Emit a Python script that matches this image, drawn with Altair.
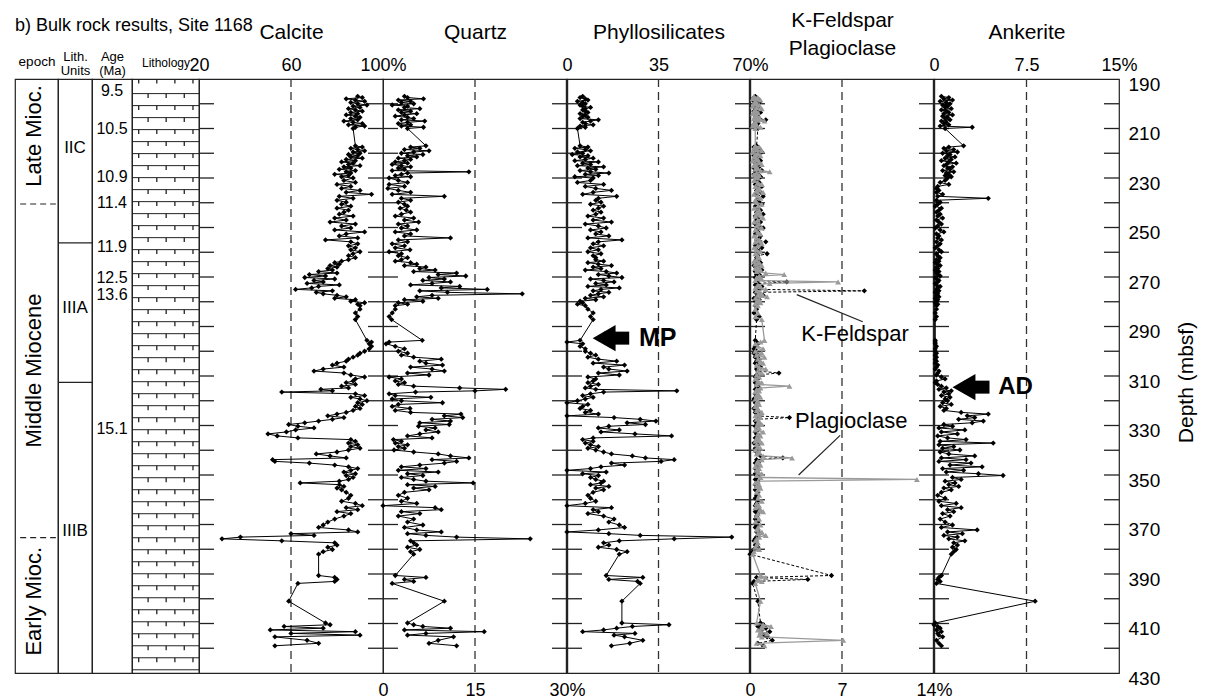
import altair as alt
import pandas as pd

FONT = "Liberation Sans"
H = 594          # plot-area height (px)
TICK_PX = 15     # inward depth tick length (px)

# ------------------------------------------------------------------ data
DEPTH = [
    # 197-210
    197.0, 197.5, 198.0, 198.5, 199.0, 199.5, 200.0, 200.5, 201.0, 201.5,
    202.0, 202.5, 203.0, 203.5, 204.0, 204.5, 205.0, 205.5, 206.0, 206.5,
    207.0, 207.5, 208.0, 208.5, 209.0, 209.5, 210.0,
    # 217-230
    217.0, 217.5, 218.0, 218.5, 219.0, 219.5, 220.0, 220.5, 221.0, 221.5,
    222.0, 222.5, 223.0, 223.5, 224.0, 224.5, 225.0, 225.5, 226.0, 226.5,
    227.0, 227.5, 228.0, 228.5, 229.0, 229.5, 230.0,
    # 231-262
    231.0, 231.8, 232.6, 233.4, 234.2, 235.0, 235.8, 236.6, 237.4, 238.2,
    239.0, 239.8, 240.6, 241.4, 242.2, 243.0, 243.8, 244.6, 245.4, 246.2,
    247.0, 247.8, 248.6, 249.4, 250.2, 251.0, 251.8, 252.6, 253.4, 254.2,
    255.0, 255.8, 256.6, 257.4, 258.2, 259.0, 259.8, 260.6, 261.4, 262.2,
    # 263-282
    263.0, 263.6, 264.2, 264.8, 265.4, 266.0, 266.6, 267.2, 267.8, 268.4,
    269.0, 269.6, 270.2, 270.8, 271.4, 272.0, 272.6, 273.2, 273.8, 274.4,
    275.0, 275.6, 276.2, 276.8, 277.4, 278.0, 278.6, 279.2, 279.8, 280.4,
    281.0, 281.6,
    # 283-299
    283.0, 284.5, 286.0, 287.2, 295.6, 296.3, 297.0, 298.0, 299.0,
    # 300-311
    300.0, 300.8, 301.6, 302.4, 303.2, 304.0, 304.8, 305.6, 306.4, 307.2,
    308.0, 308.8, 309.6, 310.4, 311.2,
    # 312-378
    312.0, 312.7, 313.4, 314.1, 314.8, 315.4, 316.0, 316.5, 317.2, 317.9,
    318.6, 319.3, 320.0, 320.8, 321.5, 322.3, 323.1, 323.9, 324.7, 325.4,
    326.1, 326.8, 327.5, 328.2, 328.9, 329.6, 330.3, 331.0, 331.8, 332.6,
    333.4, 334.2, 335.0, 335.7, 336.4, 337.1, 337.8, 338.5, 339.2, 339.9,
    340.7, 341.5, 342.3, 343.1, 343.8, 344.5, 345.2, 346.0, 346.7, 347.4,
    348.1, 348.8, 349.5, 350.2, 351.0, 351.8, 352.5, 353.2, 353.9, 354.6,
    355.3, 356.0, 357.0, 358.2, 359.4, 360.6, 361.5, 362.4, 363.2, 364.0,
    364.8, 365.6, 366.6, 367.8, 369.0, 370.2, 371.2, 372.2, 373.0, 373.7,
    374.4, 375.1, 375.8, 376.6, 377.4,
    # 378-419
    378.3, 379.2, 380.1, 381.0, 382.0, 390.6, 391.4, 392.2, 393.0, 393.8,
    401.0, 409.8, 410.5, 411.2, 411.9, 412.6, 413.3, 414.0, 414.7, 415.4,
    416.8, 418.0, 419.0,
]

CALCITE = [
    89, 91, 84, 88, 92, 86, 89, 93, 87, 90, 85, 88, 91, 86, 89, 84, 88, 90, 86, 89,
    83, 87, 91, 85, 92, 88, 87,
    88, 91, 86, 89, 92, 87, 90, 85, 89, 86, 91, 84, 88, 82, 87, 85, 90, 83, 86, 81,
    88, 84, 86, 79, 85, 82, 87,
    83, 88, 80, 86, 82, 90, 84, 95, 81, 87, 80, 84, 82, 86, 80, 85, 83, 81, 87, 79,
    84, 77, 88, 82, 86, 79, 92, 84, 81, 89, 75, 86, 89, 85, 88, 86, 90, 87, 85, 88,
    85, 82, 79, 81, 77, 80, 76, 78, 72, 80, 68, 75, 66, 79, 70, 74, 67, 81, 72, 69,
    62, 78, 71, 74, 80, 84, 79, 88, 86, 92, 89, 90,
    90, 88, 89, 88, 93, 95, 94, 95, 94,
    92, 90, 89, 87, 85, 84, 80, 78, 83, 74, 70, 83, 86, 92, 88,
    87, 84, 88, 82, 85, 73, 78, 56, 88, 92, 86, 90, 93, 89, 91, 88, 90, 87, 84, 80,
    76, 83, 78, 72, 66, 59, 63, 70, 62, 58, 50, 54, 63, 86, 88, 85, 89, 86, 90, 85,
    80, 71, 77, 84, 52, 53, 68, 79, 85, 89, 86, 83, 88, 84, 87, 85, 81, 64, 81, 83,
    80, 82, 84, 86, 85, 82, 88, 91, 84, 89, 80, 86, 83, 79, 76, 74, 72, 85, 89, 60,
    70, 38, 30, 56, 79,
    80, 76, 78, 74, 72, 72, 79, 80, 79, 63, 59, 75, 77, 57, 74, 51, 88, 60, 90, 53,
    67, 72, 53,
]

QUARTZ = [
    3.5, 4.0, 6.6, 2.5, 4.5, 3.0, 5.0, 1.5, 4.0, 3.5, 6.0, 2.5, 4.5, 3.0, 5.5, 3.5,
    2.0, 4.0, 5.0, 3.0, 6.8, 4.0, 2.5, 4.5, 3.0, 6.6, 4.0,
    7.0, 4.5, 6.0, 3.5, 7.5, 5.0, 3.0, 6.5, 4.0, 5.5, 2.5, 4.5, 3.5, 2.0, 4.0, 1.5,
    3.0, 4.5, 2.5, 3.5, 1.5, 14.0, 4.0, 3.0, 2.0, 4.5, 1.0,
    2.5, 4.0, 1.0, 3.5, 0.8, 2.5, 4.5, 1.5, 10.0, 3.0, 4.5, 2.5, 3.5, 4.0, 2.8, 3.8,
    4.5, 3.0, 2.0, 5.0, 3.5, 5.8, 2.5, 4.0, 3.0, 5.5, 2.0, 4.5, 3.5, 11.0, 2.5, 4.0,
    1.5, 3.5, 2.0, 4.4, 1.0, 3.0, 2.5, 4.0,
    3.0, 2.0, 4.5, 5.5, 3.5, 7.0, 6.0, 8.5, 5.0, 12.0, 9.0, 13.5, 7.5, 10.0, 6.5, 11.0,
    8.0, 4.5, 12.5, 9.5, 17.0, 6.0, 10.5, 22.7, 8.0, 5.5, 9.0, 3.5, 6.5, 2.5, 4.0, 2.0,
    2.0, 1.5, 1.0, 1.4, 6.4, 1.0, 0.5, 2.0, 3.5,
    2.5, 4.0, 3.0, 5.0, 9.5, 6.0, 7.0, 9.7, 4.5, 8.0, 10.0, 4.0, 7.5, 1.0, 3.0,
    2.0, 3.5, 2.5, 5.0, 12.5, 20.0, 15.0, 5.3, 1.0, 2.0, 7.8, 1.5, 3.0, 9.7, 2.5, 1.5,
    4.4, 2.0, 4.5, 12.7, 10.0, 13.0, 8.0, 11.0, 6.0, 10.8, 5.8, 8.5, 7.0, 9.0, 6.0, 4.0,
    8.0, 1.7, 3.0, 2.0, 4.0, 2.5, 3.5, 1.8, 5.0, 9.0, 11.0, 14.0, 8.0, 12.0, 10.0, 6.0,
    3.0, 7.0, 2.5, 9.0, 4.0, 6.5, 3.0, 5.0, 7.0, 14.7, 4.0, 8.5, 5.0, 7.5, 3.5, 2.5,
    4.0, 3.0, 5.5, 0.0, 8.5, 9.5, 3.0, 6.0, 2.5, 5.0, 4.0, 6.5, 3.5, 5.5, 9.5, 4.0,
    7.0, 12.0, 24.0, 4.5, 5.0,
    5.5, 4.0, 6.0, 4.5, 5.0, 2.0, 7.0, 3.5, 5.0, 1.5, 10.0, 4.0, 5.0, 6.5, 11.0, 3.5,
    16.5, 7.0, 4.0, 11.5, 9.0, 7.5, 12.0,
]

PHYLLO = [
    6, 5, 7, 8, 4, 6, 7, 5, 6, 9, 7, 6, 7, 8, 5, 7, 6, 8, 5, 12, 9, 6, 7, 10, 5, 7, 4,
    5, 8, 3, 7, 9, 4, 6, 2, 8, 5, 10, 7, 3, 12, 6, 9, 4, 14, 8, 11, 5, 9, 16, 7, 12, 3, 10,
    9, 4, 14, 7, 11, 17, 10, 6, 19, 12, 11, 13, 9, 14, 12, 10, 13, 11, 8, 14,
    10, 17, 7, 12, 15, 9, 13, 11, 16, 8, 21, 12, 10, 14, 9, 12, 8, 13, 10, 11,
    11, 14, 8, 12, 17, 10, 13, 7, 15, 19, 12, 16, 21, 9, 14, 18, 11, 15, 8, 20,
    13, 10, 16, 12, 9, 14, 7, 11, 5, 6, 4, 7,
    8, 10, 9, 10, 5, 0, 6, 5, 7,
    7, 9, 11, 8, 12, 19, 10, 22, 14, 16, 23, 12, 20, 8, 11,
    10, 8, 12, 9, 7, 11, 42, 14, 9, 6, 10, 7, 4, 0, 8, 6, 5, 9, 7, 12,
    0, 18, 28, 34, 23, 30, 16, 12, 20, 13, 26, 40, 10, 6, 10, 7, 9, 12, 8, 11,
    14, 17, 25, 30, 41, 36, 17, 22, 13, 9, 0, 15, 6, 12, 9, 11, 14, 13, 9, 16,
    11, 14, 10, 8, 9, 11, 7, 0, 17, 10, 12, 8, 14, 18, 16, 20, 22, 12, 0, 16,
    28, 63, 41, 20, 14,
    16, 12, 19, 23, 20, 15, 29, 16, 27, 28, 21, 21, 39, 25, 19, 14, 6, 26, 18, 22,
    29, 24, 17,
]

KFELDSPAR = [
    0.4, 0.3, 0.6, 0.5, 0.3, 0.7, 0.4, 0.5, 0.3, 0.6, 0.4, 0.5, 0.3, 0.8, 0.4, 0.5,
    0.6, 0.4, 0.7, 1.2, 0.5, 0.4, 0.6, 0.3, 0.5, 0.4, 0.6,
    0.5, 0.3, 0.7, 0.4, 0.6, 0.9, 0.4, 0.5, 0.3, 0.7, 0.5, 0.4, 0.8, 0.3, 0.6, 0.5,
    0.4, 0.7, 0.3, 0.5, 0.9, 0.4, 0.6, 0.3, 0.5, 0.8, 0.4,
    0.5, 0.7, 0.4, 0.9, 0.6, 0.5, 0.8, 0.4, 1.0, 0.6, 0.5, 0.7, 0.9, 0.4, 0.6, 0.8,
    0.5, 1.0, 0.4, 0.6, 0.5, 0.8, 0.4, 0.7, 1.0, 0.5, 0.6, 0.4, 0.8, 0.7, 0.5, 1.2,
    0.6, 0.4, 0.9, 0.5, 0.7, 1.3, 0.6, 0.5,
    0.6, 0.4, 0.8, 0.5, 0.3, 0.7, 0.5, 0.9, 0.4, 0.6, 0.5, 0.8, 0.4, 0.7, 0.5, 2.8,
    0.6, 0.4, 0.9, 0.5, 0.7, 8.7, 0.4, 0.6, 1.0, 0.5, 0.3, 0.7, 0.4, 0.6, 0.5, 0.4,
    0.5, 0.3, 0.7, 0.5, 0.4, 0.5, 0.6, 0.4, 0.3,
    0.5, 0.3, 0.6, 0.4, 0.7, 0.5, 0.4, 0.6, 0.8, 0.5, 0.6, 2.2, 0.5, 0.4, 0.6,
    0.5, 0.4, 0.6, 0.5, 0.7, 0.4, 0.6, 0.5, 0.4, 0.6, 0.5, 0.3, 0.5, 0.4, 0.6, 0.5,
    0.3, 0.6, 0.4, 0.7, 0.5, 3.0, 0.6, 0.4, 0.5, 0.7, 0.4, 0.5, 0.6, 0.4, 0.5, 0.7,
    0.4, 0.6, 0.5, 0.3, 0.6, 0.5, 0.4, 0.7, 0.5, 0.6, 0.8, 2.5, 0.5, 0.7, 0.4, 0.6,
    0.5, 0.4, 0.6, 0.5, 0.4, 0.7, 0.5, 0.4, 0.6, 0.5, 0.4, 0.6, 0.5, 0.4, 0.6, 0.5,
    0.4, 0.6, 0.5, 0.4, 0.6, 0.5, 0.4, 0.6, 0.5, 0.4, 0.6, 0.5, 0.4, 0.6, 0.5, 0.7,
    0.6, 0.5, 0.4, 0.3, 0.5,
    0.4, 0.6, 0.3, 0.2, 0.0, 6.2, 0.5, 4.4, 0.3, 0.2, 0.6, 0.8, 1.0, 0.6, 1.2, 0.7,
    1.5, 0.9, 1.1, 1.3, 1.7, 0.6, 1.0,
]

PLAGIOCLASE = [
    0.3, 0.6, 0.2, 0.8, 0.4, 0.5, 0.3, 0.7, 0.2, 0.5, 0.9, 0.4, 0.3, 0.6, 0.2, 0.5,
    0.4, 0.7, 0.3, 0.6, 1.1, 0.4, 0.3, 0.5, 0.2, 0.8, 0.4,
    0.4, 0.7, 0.3, 0.5, 0.9, 0.2, 0.6, 0.4, 0.8, 0.3, 0.5, 0.6, 0.2, 0.7, 0.4, 0.9,
    0.3, 0.5, 0.6, 0.4, 0.8, 1.5, 0.5, 0.3, 0.7, 0.4, 0.6,
    0.3, 0.6, 0.9, 0.4, 0.7, 0.5, 1.0, 0.3, 0.6, 0.8, 0.4, 0.5, 0.9, 0.6, 0.3, 0.7,
    0.5, 0.8, 0.4, 1.0, 0.6, 0.3, 0.7, 0.5, 0.9, 0.4, 0.6, 0.8, 0.3, 0.5, 0.7, 0.4,
    0.9, 0.6, 0.3, 0.5, 0.8, 0.4, 0.6, 0.7,
    0.5, 0.3, 0.7, 0.4, 0.9, 0.6, 0.4, 0.8, 0.5, 1.2, 2.6, 0.7, 0.5, 0.9, 0.4, 6.7,
    1.5, 0.6, 0.8, 0.4, 1.2, 0.5, 0.7, 0.9, 0.6, 1.3, 0.4, 0.7, 0.5, 0.8, 0.4, 0.6,
    0.4, 0.6, 0.4, 0.9, 1.1, 0.8, 0.4, 0.6, 1.0,
    0.4, 0.9, 0.5, 1.1, 0.6, 0.8, 1.0, 0.5, 0.7, 1.2, 0.6, 0.9, 0.5, 0.7, 0.4,
    0.6, 0.9, 0.5, 3.0, 0.8, 0.5, 0.7, 0.4, 0.6, 0.5, 0.8, 0.4, 0.6, 0.5, 0.7, 0.4,
    0.6, 0.5, 0.9, 0.6, 0.4, 0.8, 0.5, 0.7, 0.6, 0.9, 0.5, 0.7, 0.4, 1.0, 0.6, 0.8,
    0.5, 0.7, 0.4, 0.9, 0.5, 0.6, 0.8, 0.4, 0.7, 0.5, 1.0, 3.2, 0.9, 0.6, 0.5, 0.8,
    0.4, 0.7, 0.5, 0.6, 0.9, 0.5, 0.8, 12.7, 0.6, 0.4, 0.7, 0.5, 0.8, 0.6, 0.5, 0.7,
    0.6, 0.9, 0.5, 0.7, 0.4, 0.8, 1.0, 0.6, 0.5, 0.7, 0.4, 0.8, 0.6, 0.5, 0.9, 0.6,
    1.2, 0.7, 0.5, 0.4, 0.6,
    0.5, 0.4, 0.7, 0.3, 0.2, 0.8, 1.2, 0.6, 0.9, 0.4, 0.8, 0.5, 1.0, 1.6, 0.9, 0.6,
    0.8, 1.3, 0.7, 0.9, 7.1, 0.5, 1.1,
]

ANKERITE = [
    0.6, 1.2, 0.8, 1.5, 0.5, 1.0, 1.3, 0.7, 1.1, 0.9, 1.4, 0.6, 1.0, 1.2, 0.8, 1.5,
    0.7, 1.1, 0.9, 1.3, 0.6, 1.0, 0.8, 1.2, 0.5, 3.1, 0.9,
    2.4, 1.2, 0.8, 1.6, 1.0, 1.9, 0.7, 1.3, 1.1, 1.7, 0.9, 1.4, 0.6, 1.2, 1.8, 1.0,
    0.8, 1.5, 1.1, 1.3, 0.7, 1.6, 1.0, 1.2, 0.9, 1.4, 1.1,
    0.9, 0.5, 1.2, 0.3, 0.2, 0.4, 0.2, 0.7, 0.3, 4.4, 0.2, 0.5, 0.3, 0.1, 0.6, 0.4,
    0.2, 0.5, 0.3, 0.7, 0.2, 0.4, 0.6, 0.3, 0.1, 0.5, 0.8, 0.2, 0.4, 0.3, 0.6, 0.2,
    0.5, 0.3, 0.1, 0.4, 0.6, 0.2, 0.3, 0.5,
    0.2, 0.4, 0.1, 0.3, 0.5, 0.2, 0.3, 0.1, 0.4, 0.2, 0.3, 0.5, 0.1, 0.2, 0.4, 0.3,
    0.1, 0.2, 0.5, 0.3, 0.2, 0.4, 0.1, 0.3, 0.2, 0.4, 0.1, 0.3, 0.2, 0.1, 0.3, 0.2,
    0.2, 0.1, 0.2, 0.1, 0.1, 0.1, 0.1, 0.2, 0.1,
    0.1, 0.2, 0.1, 0.2, 0.1, 0.2, 0.1, 0.3, 0.2, 0.1, 0.4, 0.3, 0.2, 0.6, 0.9,
    0.2, 0.1, 0.3, 0.6, 1.0, 0.4, 1.4, 0.8, 1.2, 0.6, 1.3, 0.9, 1.1, 0.7, 1.4, 0.5,
    1.0, 0.8, 2.2, 4.4, 2.7, 3.3, 2.0, 4.0, 3.1, 0.8, 1.5, 0.4, 2.5, 0.6, 1.9, 0.3,
    1.1, 2.6, 0.5, 4.8, 0.4, 1.6, 0.7, 2.1, 0.5, 1.2, 3.3, 0.6, 2.6, 0.4, 3.0, 1.3,
    3.9, 0.7, 2.4, 1.0, 3.6, 5.6, 1.5, 2.2, 0.9, 1.7, 1.2, 2.0, 0.8, 1.4, 0.6, 0.3,
    0.9, 0.4, 1.8, 0.6, 2.2, 1.1, 1.6, 0.7, 1.3, 0.5, 0.9, 1.5, 0.6, 3.5, 1.1, 2.3,
    0.8, 1.9, 1.2, 2.5, 1.6,
    1.9, 1.5, 1.8, 1.6, 1.4, 0.6, 0.4, 0.3, 0.5, 0.2, 8.2, 0.1, 0.0, 0.3, 0.5, 0.2,
    0.6, 0.3, 0.4, 0.7, 0.2, 0.4, 0.6,
]

DEPTH_LABELS = [190, 210, 230, 250, 270, 290, 310, 330, 350, 370, 390, 410, 430]
TICK_DEPTHS = [200, 210, 220, 230, 240, 250, 260, 270, 280, 290, 300, 310,
               320, 330, 340, 350, 360, 370, 380, 390, 400, 410, 420]

EPOCH_NAMES = ["Late Mioc.", "Middle Miocene", "Early Mioc."]
EPOCH_CENTERS = [213.0, 307.8, 401.0]
EPOCH_BOUNDS = [240.5, 375.3]

UNIT_NAMES = ["IIC", "IIIA", "IIIB"]
UNIT_CENTERS = [218.0, 282.4, 372.8]
UNIT_BOUNDS = [256.2, 312.6]

AGE_LABELS = ["9.5", "10.5", "10.9", "11.4", "11.9", "12.5", "13.6", "15.1"]
AGE_DEPTHS = [195.0, 210.3, 229.7, 240.1, 257.9, 270.3, 277.4, 331.3]

FSP_NOTES = ["K-Feldspar", "Plagioclase"]
FSP_NOTE_X = [3.9, 3.43]
FSP_NOTE_DEPTH = [292.9, 328.0]
FSP_LEAD_X = [3.56, 6.86]
FSP_LEAD_X2 = [8.58, 3.7]
FSP_LEAD_D = [277.1, 334.0]
FSP_LEAD_D2 = [288.1, 350.0]

n = len(DEPTH)
for arr in (CALCITE, QUARTZ, PHYLLO, KFELDSPAR, PLAGIOCLASE, ANKERITE):
    assert len(arr) == n, (len(arr), n)

df = pd.DataFrame({
    "depth": DEPTH, "calcite": CALCITE, "quartz": QUARTZ, "phyllo": PHYLLO,
    "kfs": KFELDSPAR, "plag": PLAGIOCLASE, "ank": ANKERITE,
})

# ------------------------------------------------------------------ scales
yscale = alt.Scale(domain=[190, 430], reverse=True, nice=False, zero=False)
Yn = alt.Y("depth:Q", scale=yscale, axis=None)
depth_axis = alt.Axis(
    orient="right", values=DEPTH_LABELS, ticks=False, domain=False, grid=False,
    labelPadding=9, labelOffset=5, labelFontSize=19, labelColor="black",
    labelFlush=False, labelOverlap=False,
    title="Depth (mbsf)", titleAngle=270, titleFontSize=21, titleFontWeight="normal",
    titleX=67, titleY=H / 2 + 6, titleBaseline="middle", titleAlign="center",
    titleColor="black",
)
Yr = alt.Y("depth:Q", scale=yscale, axis=depth_axis)
xs01 = alt.Scale(domain=[0, 1], nice=False, zero=False)
LINE = "#222222"


def header_axis(title, ty, size=13.5):
    return alt.Axis(orient="top", labels=False, ticks=False, domain=False, grid=False,
                    title=title, titleY=ty, titleBaseline="alphabetic", titleFontSize=size,
                    titleFontWeight="normal", titleLineHeight=14, titleColor="black")


# ------------------------------------------------------------------ left columns
ax_epoch = header_axis("epoch", -14)
epoch_txt = pd.DataFrame({"label": EPOCH_NAMES, "depth": EPOCH_CENTERS})
epoch_txt["x"] = 0.45
epoch_lines = pd.DataFrame({"depth": EPOCH_BOUNDS})
epoch_lines["x0"] = 0.12
epoch_lines["x1"] = 0.95
epoch = alt.layer(
    alt.Chart(epoch_lines).mark_rule(color=LINE, strokeWidth=1.2, strokeDash=[6, 4]).encode(
        x=alt.X("x0:Q", scale=xs01, axis=ax_epoch), x2="x1:Q", y=Yn),
    alt.Chart(epoch_txt).mark_text(angle=270, fontSize=22, color="black").encode(
        x=alt.X("x:Q", scale=xs01, axis=ax_epoch), y=Yn, text="label:N"),
).properties(
    width=43, height=H,
    title=alt.TitleParams("b) Bulk rock results, Site 1168", anchor="start", frame="group",
                          fontSize=18, fontWeight="normal", color="black", offset=19),
)

ax_units = header_axis(["Lith.", "Units"], -19, 13)
unit_txt = pd.DataFrame({"label": UNIT_NAMES, "depth": UNIT_CENTERS})
unit_txt["x"] = 0.5
unit_lines = pd.DataFrame({"depth": UNIT_BOUNDS})
unit_lines["x0"] = 0.0
unit_lines["x1"] = 1.0
units = alt.layer(
    alt.Chart(unit_lines).mark_rule(color=LINE, strokeWidth=1.2).encode(
        x=alt.X("x0:Q", scale=xs01, axis=ax_units), x2="x1:Q", y=Yn),
    alt.Chart(unit_txt).mark_text(fontSize=17, color="black").encode(
        x=alt.X("x:Q", scale=xs01, axis=ax_units), y=Yn, text="label:N"),
).properties(width=34, height=H)

ax_age = header_axis(["Age", "(Ma)"], -19, 13)
age_txt = pd.DataFrame({"label": AGE_LABELS, "depth": AGE_DEPTHS})
age_txt["x"] = 0.5
age = alt.Chart(age_txt).mark_text(fontSize=16, color="black").encode(
    x=alt.X("x:Q", scale=xs01, axis=ax_age), y=Yn, text="label:N",
).properties(width=40, height=H)

# limestone pattern
ax_lith = header_axis("Lithology", -13, 12)
rows = [190.0]
d = 195.9
while d < 429:
    rows.append(round(d, 2))
    d += 4.85
hatch = pd.DataFrame({"depth": rows[1:]})
hatch["x0"] = 0.0
hatch["x1"] = 1.0
tk = []
for i, r in enumerate(rows):
    fr = [0.1, 0.37, 0.64, 0.91] if i % 2 == 0 else [0.24, 0.51, 0.78]
    if r + 1.8 <= 430:
        for f in fr:
            tk.append({"x": f, "depth": r, "depth2": r + 1.8})
lith_ticks = pd.DataFrame(tk)
litho = alt.layer(
    alt.Chart(hatch).mark_rule(color=LINE, strokeWidth=1).encode(
        x=alt.X("x0:Q", scale=xs01, axis=ax_lith), x2="x1:Q", y=Yn),
    alt.Chart(lith_ticks).mark_rule(color=LINE, strokeWidth=1.3).encode(
        x=alt.X("x:Q", scale=xs01, axis=ax_lith), y=Yn, y2="depth2:Q"),
).properties(width=67, height=H)


# ------------------------------------------------------------------ mineral panels
def mineral_axis(orient, values, title):
    last = values[-1]
    expr = f"datum.value == {last} ? '{last:g}%' : toString(datum.value)"
    ty = -47
    if isinstance(title, list):
        ty = -59          # first line of a two-line title
    if orient == "bottom":
        ty -= H
    return alt.Axis(
        orient=orient, values=values, labelExpr=expr, title=title, titleY=ty,
        titleBaseline="middle", titleFontSize=21, titleFontWeight="normal",
        titleLineHeight=28, titleColor="black", labelFontSize=18, labelColor="black",
        labelPadding=5 if orient == "top" else 8, labelFlush=False, labelOverlap=False,
        ticks=False, domain=False, grid=False)


def frame_layers(lo, hi, width, mid, ax, Y, bold_zero):
    xs = alt.Scale(domain=[lo, hi], nice=False, zero=False)
    ext = (hi - lo) * TICK_PX / width
    m = len(TICK_DEPTHS)
    tdf = pd.DataFrame({"depth": TICK_DEPTHS * 2,
                        "x0": [lo] * m + [hi - ext] * m,
                        "x1": [lo + ext] * m + [hi] * m})
    layers = [
        alt.Chart(pd.DataFrame({"v": [mid]})).mark_rule(
            color="#333333", strokeWidth=1.3, strokeDash=[8, 5]).encode(
            x=alt.X("v:Q", scale=xs, axis=ax)),
        alt.Chart(tdf).mark_rule(color=LINE, strokeWidth=1.3).encode(
            x=alt.X("x0:Q", scale=xs, axis=ax), x2="x1:Q", y=Y),
    ]
    if bold_zero:
        layers.append(alt.Chart(pd.DataFrame({"v": [lo]})).mark_rule(
            color=LINE, strokeWidth=2.4).encode(x=alt.X("v:Q", scale=xs, axis=ax)))
    return xs, layers


def series(field, xs, ax, Y, color="black", dash=None, shape="diamond", size=28, width=1.0):
    lkw = dict(color=color, strokeWidth=width)
    if dash:
        lkw["strokeDash"] = dash
    return [
        alt.Chart(df).mark_line(**lkw).encode(
            x=alt.X(f"{field}:Q", scale=xs, axis=ax), y=Y, order=alt.Order("depth:Q")),
        alt.Chart(df).mark_point(shape=shape, filled=True, size=size, color=color,
                                 opacity=1).encode(
            x=alt.X(f"{field}:Q", scale=xs, axis=ax), y=Y),
    ]


def arrow(xs, ax, Y, depth, head, tail, text_x, label, fsize):
    a = pd.DataFrame({"depth": [depth], "h": [head], "t": [tail], "tx": [text_x],
                      "label": [label]})
    return [
        alt.Chart(a).mark_rule(color="black", strokeWidth=13, strokeCap="butt").encode(
            x=alt.X("h:Q", scale=xs, axis=ax), x2="t:Q", y=Y),
        alt.Chart(a).mark_point(shape="triangle-left", filled=True, size=700,
                                color="black", opacity=1).encode(
            x=alt.X("h:Q", scale=xs, axis=ax), y=Y),
        alt.Chart(a).mark_text(fontSize=fsize, fontWeight="bold", align="left",
                               baseline="middle", color="black").encode(
            x=alt.X("tx:Q", scale=xs, axis=ax), y=Y, text="label:N"),
    ]


# Calcite
ax = mineral_axis("top", [20, 60, 100], "Calcite")
xs, L = frame_layers(20, 100, 184, 60, ax, Yn, False)
cal = alt.layer(*L, *series("calcite", xs, ax, Yn)).properties(width=184, height=H)

# Quartz
ax = mineral_axis("bottom", [0, 15, 30], "Quartz")
xs, L = frame_layers(0, 30, 184, 15, ax, Yn, False)
qtz = alt.layer(*L, *series("quartz", xs, ax, Yn)).properties(width=184, height=H)

# Phyllosilicates
ax = mineral_axis("top", [0, 35, 70], "Phyllosilicates")
xs, L = frame_layers(0, 70, 183, 35, ax, Yn, True)
phy = alt.layer(*L, *series("phyllo", xs, ax, Yn),
                *arrow(xs, ax, Yn, 294.7, 14.2, 23.8, 27.5, "MP", 25)
                ).properties(width=183, height=H)

# K-Feldspar / Plagioclase
ax = mineral_axis("bottom", [0, 7, 14], ["K-Feldspar", "Plagioclase"])
xs, L = frame_layers(0, 14, 184, 7, ax, Yn, True)
notes = pd.DataFrame({"label": FSP_NOTES, "nx": FSP_NOTE_X, "depth": FSP_NOTE_DEPTH})
leads = pd.DataFrame({"lx": FSP_LEAD_X, "lx2": FSP_LEAD_X2,
                      "depth": FSP_LEAD_D, "depth2": FSP_LEAD_D2})
fsp = alt.layer(
    *L,
    *series("kfs", xs, ax, Yn, dash=[3, 2]),
    *series("plag", xs, ax, Yn, color="#9a9a9a", shape="triangle-up", size=34, width=1.3),
    alt.Chart(leads).mark_rule(color=LINE, strokeWidth=1.2).encode(
        x=alt.X("lx:Q", scale=xs, axis=ax), x2="lx2:Q", y=Yn, y2="depth2:Q"),
    alt.Chart(notes).mark_text(fontSize=22, align="left", baseline="middle",
                               color="black").encode(
        x=alt.X("nx:Q", scale=xs, axis=ax), y=Yn, text="label:N"),
).properties(width=184, height=H)

# Ankerite (with depth axis)
ax = mineral_axis("top", [0, 7.5, 15], "Ankerite")
xs, L = frame_layers(0, 15, 185, 7.5, ax, Yr, True)
ank = alt.layer(*L, *series("ank", xs, ax, Yr),
                *arrow(xs, ax, Yr, 314.5, 2.43, 4.5, 5.2, "AD", 24)
                ).properties(width=185, height=H)

chart = alt.hconcat(
    epoch, units, age, litho, cal, qtz, phy, fsp, ank,
    spacing=0, bounds="flush",
    padding={"left": 6, "top": 0, "right": 5, "bottom": 5},
).configure(font=FONT).configure_view(stroke=LINE, strokeWidth=1.2).configure_axis(grid=False)

chart.save("out.html", embed_options={"renderer": "svg", "actions": False})
